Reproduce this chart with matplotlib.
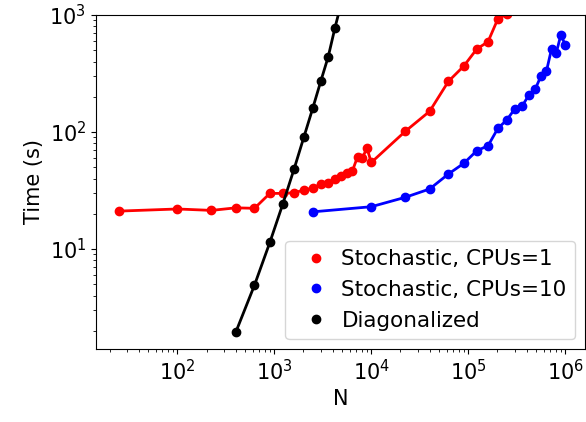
import matplotlib
matplotlib.use("Agg")
import matplotlib.pyplot as plt

# Stochastic, CPUs=1
n_red = [25, 100, 225, 400, 625, 900, 1225, 1600, 2025, 2500, 3025, 3600, 4225,
         4900, 5625, 6400, 7225, 8100, 9025, 10000, 22500, 40000, 62500, 90000,
         122500, 160000, 202500, 250000]
t_red = [21.1, 22.0, 21.4, 22.5, 22.3, 29.9, 29.9, 30.3, 31.9, 33.2, 36.0, 36.9, 39.5,
         42.3, 44.4, 46.7, 61.5, 60.1, 73.0, 54.9, 101.6, 150.3, 271, 366,
         512, 591, 930, 1014]

# Stochastic, CPUs=10
n_blue = [2500, 10000, 22500, 40000, 62500, 90000, 122500, 160000, 202500, 250000,
          302500, 360000, 422500, 490000, 562500, 640000, 722500, 810000, 902500, 1000000]
t_blue = [20.8, 23.0, 27.7, 32.6, 43.8, 54.0, 69.2, 76.3, 107.7, 126.8,
          158, 167, 207, 232, 301, 330, 512, 476, 679, 554]

# Diagonalized
n_black = [400, 625, 900, 1225, 1600, 2025, 2500, 3025, 3600, 4225, 4900]
t_black = [1.94, 4.92, 11.4, 24.3, 48.3, 91.2, 161, 274, 440, 778, 1259]

series = [
    (n_red, t_red, "red", "Stochastic, CPUs=1"),
    (n_blue, t_blue, "blue", "Stochastic, CPUs=10"),
    (n_black, t_black, "black", "Diagonalized"),
]

fig = plt.figure(figsize=(5.86, 4.22), dpi=100)
ax = fig.add_axes([0.1638, 0.173, 0.8345, 0.7915])
FS = 15
for n, t, c, lab in series:
    ax.plot(n, t, color=c, lw=2)
    ax.plot(n, t, 'o', color=c, ms=6, label=lab)

ax.set_xscale("log")
ax.set_yscale("log")
ax.set_xlim(14.5, 1.6e6)
ax.set_ylim(1.40, 1000)
ax.set_xlabel("N", fontsize=FS)
ax.set_ylabel("Time (s)", fontsize=FS)
ax.tick_params(labelsize=FS)
ax.legend(loc="lower right", fontsize=15.5, handletextpad=0.2, borderaxespad=0.45)
fig.savefig("out.png", dpi=100)
